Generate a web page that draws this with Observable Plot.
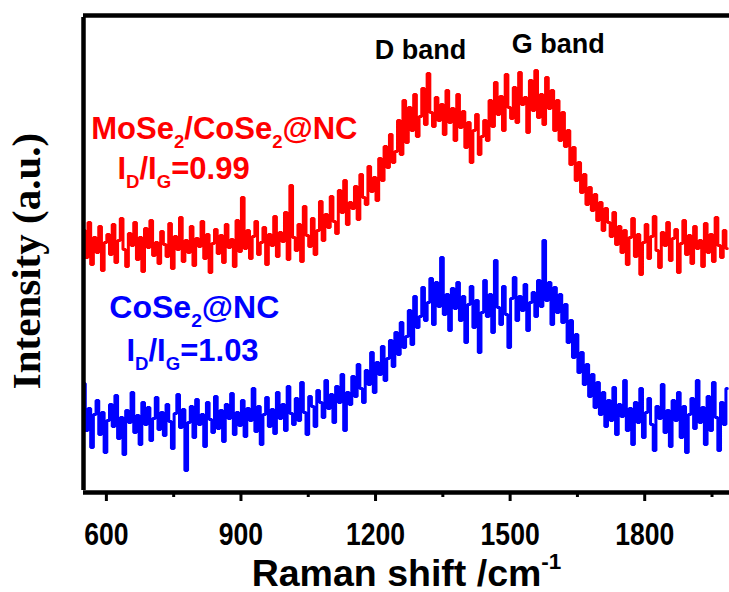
<!DOCTYPE html>
<html>
<head>
<meta charset="utf-8">
<script src="https://cdn.jsdelivr.net/npm/d3@7"></script>
<script src="https://cdn.jsdelivr.net/npm/@observablehq/plot@0.6"></script>
<style>
  html, body { margin: 0; padding: 0; background: #fff; }
  #chart svg { display: block; }
</style>
</head>
<body>
<div id="chart"></div>
<script>
// Raman shift grid (cm^-1), one reading every 6 cm^-1
const shiftStart = 550;
const shiftStep = 6;

// MoSe2/CoSe2@NC intensity (a.u.)
const redIntensity = [
  262,235,270,228,255,240,266,222,250,258,
  238,268,230,252,274,243,226,259,247,270,
  233,255,221,264,245,272,237,250,229,261,
  248,236,269,224,256,243,275,231,252,240,
  266,227,254,246,271,234,258,220,249,263,
  239,257,230,268,245,253,226,272,241,295,
  244,262,234,256,271,238,250,265,228,258,
  247,276,236,260,251,280,233,307,255,242,
  268,231,286,257,246,274,238,262,291,252,
  278,265,296,271,259,302,280,312,268,290,
  284,306,273,318,295,288,326,301,315,292,
  334,312,346,325,358,330,341,372,338,392,
  350,385,362,398,356,376,404,368,419,380,
  366,395,372,388,358,402,370,384,352,398,
  365,381,345,370,330,362,378,338,356,372,
  352,392,366,410,378,396,362,418,385,374,
  405,370,420,388,395,360,412,382,422,375,
  398,368,415,384,402,362,392,352,380,346,
  362,328,345,312,330,300,318,288,305,282,
  298,272,290,262,284,270,256,280,248,266,
  240,262,228,255,274,236,258,218,250,268,
  234,256,276,242,225,260,247,270,232,254,
  263,220,249,272,238,257,229,266,244,252,
  226,269,240,258,231,275,247,235,262,244
];

// CoSe2@NC intensity (a.u.)
const blueIntensity = [
  109,62,84,45,78,92,58,80,40,72,
  88,66,97,54,75,38,82,70,100,60,
  77,48,90,68,85,52,74,95,63,80,
  57,88,71,44,79,98,65,83,22,70,
  86,55,93,68,78,46,90,73,60,96,
  64,82,51,88,74,99,58,80,67,92,
  56,84,72,104,61,86,48,78,95,66,
  83,59,100,74,88,62,106,79,68,94,
  72,110,80,58,96,86,66,102,90,75,
  112,84,98,70,106,90,118,62,100,88,
  116,96,128,104,90,122,108,140,100,130,
  118,146,112,134,152,126,160,138,170,145,
  156,182,148,196,165,176,205,172,190,214,
  168,210,186,235,178,198,162,204,184,210,
  172,196,150,188,206,165,192,140,180,212,
  176,198,160,232,185,168,206,178,145,194,
  215,172,196,182,208,162,190,200,176,212,
  186,252,192,210,168,205,180,198,170,188,
  150,172,135,158,120,140,108,128,96,118,
  85,110,78,100,66,92,72,105,58,88,
  76,112,62,84,48,90,70,104,55,80,
  94,68,42,86,74,108,60,82,46,92,
  72,100,55,86,40,78,94,64,112,70,
  85,48,96,62,110,75,42,90,68,104
];

const majorTicks = [600, 900, 1200, 1500, 1800];
const minorTicks = [750, 1050, 1350, 1650, 1950];
const xDomain = [549, 1989];
const yDomain = [0, 477];

// annotations
const annKeys   = ["dband", "gband", "mose", "mose_r", "cose", "cose_r"];
const annText   = ["D band", "G band", "MoSe2/CoSe2@NC", "ID/IG=0.99", "CoSe2@NC", "ID/IG=1.03"];
const annX      = [1300, 1607, 863, 772, 796, 792];
const annY      = [434, 440, 354, 314, 175, 132];
const annColor  = ["#000", "#000", "#ff0000", "#ff0000", "#0000ff", "#0000ff"];
const annSize   = [27, 27, 31, 31, 32, 31];

const red = redIntensity.map((v, i) => ({x: shiftStart + i * shiftStep, y: v}));
const blue = blueIntensity.map((v, i) => ({x: shiftStart + i * shiftStep, y: v}));
const ann = annKeys.map((k, i) => ({key: k, text: annText[i], x: annX[i], y: annY[i], color: annColor[i], size: annSize[i]}));

const sans = "'Liberation Sans', Arial, sans-serif";
const serif = "'Liberation Serif', 'Times New Roman', serif";

const chart = Plot.plot({
  width: 729,
  height: 592,
  marginTop: 15,
  marginBottom: 100,
  marginLeft: 83,
  marginRight: 0,
  style: {background: "#fff", fontFamily: sans, overflow: "visible"},
  x: {domain: xDomain},
  y: {domain: yDomain, axis: null},
  marks: [
    Plot.line(red, {x: "x", y: "y", stroke: "#ff0000", strokeWidth: 3, curve: "step", strokeLinejoin: "miter"}),
    Plot.line(blue, {x: "x", y: "y", stroke: "#0000ff", strokeWidth: 3, curve: "step", strokeLinejoin: "miter"}),
    Plot.ruleY([yDomain[0]], {stroke: "#000", strokeWidth: 4.5}),
    Plot.ruleY([yDomain[1]], {stroke: "#000", strokeWidth: 4.5}),
    Plot.ruleX([xDomain[0]], {stroke: "#000", strokeWidth: 4.5, y1: yDomain[0], y2: yDomain[1], insetTop: -2, insetBottom: -2}),
    Plot.axisX({ticks: majorTicks, tickSize: 9, strokeWidth: 3, tickPadding: 21, fontSize: 32, fontWeight: "bold", fontFamily: sans, tickFormat: d => String(d), label: null}),
    Plot.axisX({ticks: minorTicks, tickSize: 5, strokeWidth: 3, tickFormat: () => "", label: null}),
    Plot.text(["Raman shift /cm"], {frameAnchor: "bottom", dy: 93, dx: 0, lineAnchor: "bottom", textAnchor: "middle", fontSize: 37.5, fontWeight: "bold", className: "xlabel", fill: "#000"}),
    Plot.text(["Intensity (a.u.)"], {frameAnchor: "left", textAnchor: "middle", lineAnchor: "middle", rotate: -90, dx: -57, dy: 7, fontSize: 41, fontWeight: "bold", fontFamily: serif, className: "ylabel", fill: "#000"}),
    ...ann.map(a => Plot.text([a], {x: "x", y: "y", text: "text", fill: a.color, fontSize: a.size, fontWeight: "bold", lineAnchor: "bottom", textAnchor: "middle", className: "ann-" + a.key}))
  ]
});

document.getElementById("chart").appendChild(chart);

// condensed tick labels (as in the original figure)
d3.select(chart).selectAll("g[aria-label='x-axis tick label'] text").each(function () {
  const s = this.textContent;
  if (!s) return;
  const len = this.getComputedTextLength();
  if (len > 0) {
    this.setAttribute("textLength", (len * 0.83).toFixed(1));
    this.setAttribute("lengthAdjust", "spacingAndGlyphs");
  }
});

// rich text: subscripts / superscripts
function rich(cls, parts, size) {
  const t = d3.select(chart).select("g." + cls + " text");
  if (t.empty()) return;
  t.text(null);
  let shift = 0;
  parts.forEach(p => {
    const ts = t.append("tspan").text(p.t);
    let target = 0;
    if (p.sub) { ts.attr("font-size", size * 0.6); target = size * 0.3; }
    if (p.sup) { ts.attr("font-size", size * 0.6); target = -size * 0.45; }
    if (target - shift !== 0) ts.attr("dy", target - shift);
    shift = target;
  });
}
rich("ann-mose", [{t: "MoSe"}, {t: "2", sub: 1}, {t: "/CoSe"}, {t: "2", sub: 1}, {t: "@NC"}], annSize[2]);
rich("ann-mose_r", [{t: "I"}, {t: "D", sub: 1}, {t: "/I"}, {t: "G", sub: 1}, {t: "=0.99"}], annSize[3]);
rich("ann-cose", [{t: "CoSe"}, {t: "2", sub: 1}, {t: "@NC"}], annSize[4]);
rich("ann-cose_r", [{t: "I"}, {t: "D", sub: 1}, {t: "/I"}, {t: "G", sub: 1}, {t: "=1.03"}], annSize[5]);
rich("xlabel", [{t: "Raman shift /cm"}, {t: "-1", sup: 1}], 37.5);
</script>
</body>
</html>
